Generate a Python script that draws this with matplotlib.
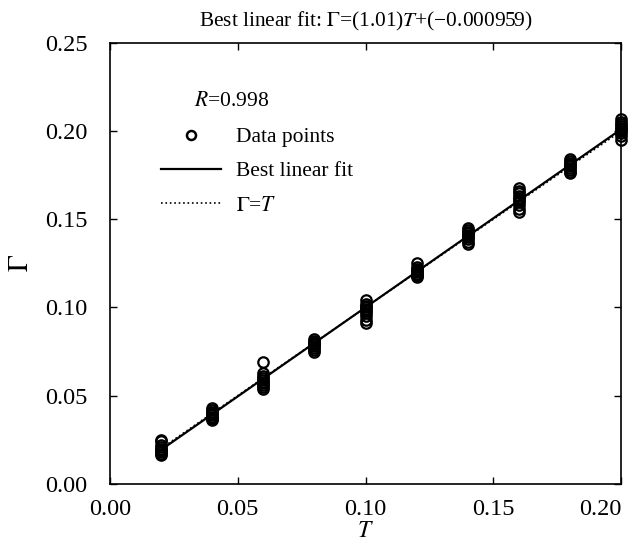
import numpy as np
import matplotlib
matplotlib.use('Agg')
import matplotlib.pyplot as plt
from matplotlib.lines import Line2D

plt.rcParams['font.family'] = ['Liberation Serif', 'DejaVu Serif']
plt.rcParams['mathtext.fontset'] = 'stix'

# Target values T and the scattered outputs Gamma at each target
t_levels = [0.02, 0.04, 0.06, 0.08, 0.10, 0.12, 0.14, 0.16, 0.18, 0.20]
gamma_002 = [0.025, 0.024, 0.022, 0.021, 0.020, 0.019, 0.018, 0.017, 0.0165, 0.0185]
gamma_004 = [0.043, 0.042, 0.041, 0.040, 0.039, 0.038, 0.037, 0.036, 0.0395, 0.0375]
gamma_006 = [0.069, 0.063, 0.061, 0.060, 0.059, 0.058, 0.057, 0.056, 0.055, 0.054]
gamma_008 = [0.082, 0.081, 0.080, 0.080, 0.079, 0.078, 0.077, 0.076, 0.075, 0.0795]
gamma_010 = [0.104, 0.102, 0.101, 0.100, 0.099, 0.098, 0.097, 0.095, 0.093, 0.091]
gamma_012 = [0.125, 0.123, 0.122, 0.121, 0.120, 0.119, 0.118, 0.117, 0.1205, 0.1185]
gamma_014 = [0.145, 0.144, 0.143, 0.142, 0.141, 0.140, 0.139, 0.137, 0.136, 0.1405]
gamma_016 = [0.168, 0.166, 0.165, 0.163, 0.162, 0.161, 0.160, 0.158, 0.156, 0.154]
gamma_018 = [0.184, 0.183, 0.182, 0.181, 0.180, 0.179, 0.178, 0.177, 0.176, 0.1805]
gamma_020 = [0.207, 0.205, 0.204, 0.203, 0.202, 0.201, 0.200, 0.199, 0.197, 0.195]
gamma_groups = [gamma_002, gamma_004, gamma_006, gamma_008, gamma_010,
                gamma_012, gamma_014, gamma_016, gamma_018, gamma_020]

# fit reported in the title
slope = 1.01
intercept = -0.000959
r_value = 0.998

x_ticks = [0.00, 0.05, 0.10, 0.15, 0.20]
y_ticks = [0.00, 0.05, 0.10, 0.15, 0.20, 0.25]

fig = plt.figure(figsize=(6.39, 5.43), dpi=100)
ax = fig.add_axes([0.172, 0.109, 0.800, 0.812])

# scatter points
xs = []
ys = []
for t, g in zip(t_levels, gamma_groups):
    xs += [t] * len(g)
    ys += g
ax.plot(xs, ys, linestyle='none', marker='o', markersize=7.5, markerfacecolor='none',
        markeredgecolor='black', markeredgewidth=1.6, clip_on=False, zorder=3)

# fit line and identity line
t_line = np.array([t_levels[0], t_levels[-1]])
ax.plot(t_line, t_line, color='black', linestyle=':', linewidth=1.2, zorder=2)
ax.plot(t_line, slope * t_line + intercept, color='black', linestyle='-', linewidth=1.6, zorder=4)

ax.set_xlim(0, 0.20)
ax.set_ylim(0, 0.25)
ax.set_xticks(x_ticks)
ax.set_yticks(y_ticks)
ax.set_xticklabels(['%.2f' % v for v in x_ticks])
ax.set_yticklabels(['%.2f' % v for v in y_ticks])
ax.tick_params(direction='in', top=True, right=True, length=5, width=1,
               labelsize=17.5)
ax.tick_params(axis='x', pad=11)
ax.tick_params(axis='y', pad=16)
# last x label kept inside the figure, as in the original
ax.get_xticklabels()[-1].set_horizontalalignment('right')
for s in ax.spines.values():
    s.set_linewidth(1.2)

ax.set_xlabel('$T$', fontsize=17, labelpad=1)
ax.set_ylabel(r'$\Gamma$', fontsize=20, labelpad=8)
ax.set_title(r'Best linear fit: $\Gamma$=(1.01)$T$+(−0.000959)', fontsize=15.4, pad=12)

ax.text(0.033, 0.217, '$R$=%.3f' % r_value, fontsize=15.5, va='center', ha='left')

handles = [
    Line2D([], [], linestyle='none', marker='o', markersize=6.5, markerfacecolor='none',
           markeredgecolor='black', markeredgewidth=1.8),
    Line2D([], [], color='black', linestyle='-', linewidth=1.6),
    Line2D([], [], color='black', linestyle=':', linewidth=1.2),
]
ax.legend(handles, ['Data points', 'Best linear fit', r'$\Gamma$=$T$'],
          loc='upper left', bbox_to_anchor=(0.10, 0.809), frameon=False,
          fontsize=15.5, handlelength=2.8, handletextpad=0.7, labelspacing=0.66,
          borderpad=0, borderaxespad=0)

fig.savefig('out.png', dpi=100)
